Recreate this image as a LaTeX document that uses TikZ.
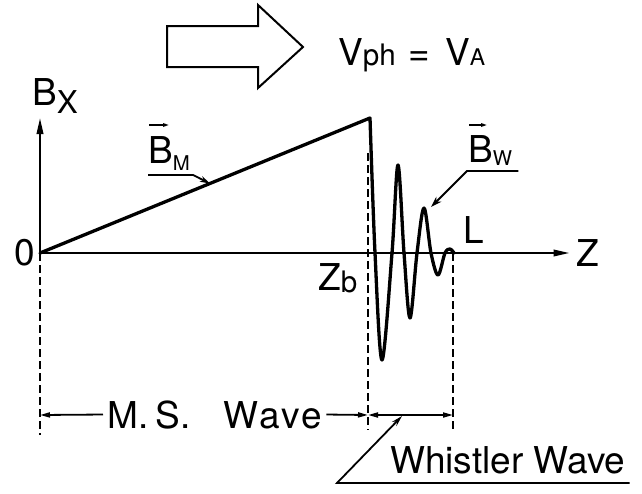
\documentclass[tikz,border=0pt]{standalone}
\usepackage{fontspec}
\setmainfont{TeX Gyre Heros}
\usetikzlibrary{arrows.meta,positioning,calc}
\tikzset{
  axisln/.style={-{Triangle[length=16pt,width=6.5pt]}, line width=2.1pt},
  curveln/.style={line width=3.3pt, line cap=round, line join=round},
  projln/.style={dash pattern=on 8pt off 4pt, line width=2pt},
  dimln/.style={line width=1.8pt},
  leadln/.style={line width=1.8pt},
  vecln/.style={-{Triangle[length=6pt,width=3.5pt]}, line width=1.4pt},
  bigarrow/.style={line width=2pt, line join=miter},
  lbl/.style={inner sep=0pt, font=\biglbl},
}
\newcommand{\biglbl}{\fontsize{37}{42}\selectfont}
\newcommand{\lowsub}[3][0pt]{\raisebox{-#1}{\scalebox{#2}{#3}}}

\begin{document}
\begin{tikzpicture}[x=1pt,y=-1pt]
  \useasboundingbox (0,0) rectangle (642,493);
  % --- phase velocity arrow ---
  \draw[bigarrow] (167,26) -- (258,26) -- (258,5) -- (303,47) -- (258,88)
    -- (258,67) -- (167,67) -- cycle;
  \node[lbl, anchor=base west] (vph) at (338,65)
    {V\lowsub{0.8}{ph}\hspace{0.35em}=\hspace{0.4em}V\lowsub{0.62}{A}};
  % --- axes ---
  \coordinate (o) at (40,253);
  \node[lbl] (olab) at (25,253) {0};
  \node[lbl] (zlab) at (588,253) {Z};
  \node[lbl, anchor=base west] (bxlab) at (32,105) {B\lowsub[8pt]{0.85}{X}};
  \draw[axisln] (o) -- ([xshift=-7pt]zlab.west);
  \draw[axisln] (o) -- (40,118) coordinate (bxtip);
  % --- field profile ---
  \coordinate (peak) at (370,118);
  \draw[curveln] (o) -- plot[smooth, tension=0.55] coordinates {
    (peak) (375,253) (382,360) (392,253) (398,165) (404,253) (410,318)
    (417,253) (424,208) (431,253) (438,275) (445,253) (450,249) (454,253)};
  \coordinate (bmtip) at ($(o)!0.515!(peak)$);
  \coordinate (bwtip) at (431,207);
  % --- labels on the profile ---
  \node[lbl, anchor=base west] (zblab) at (318,290) {Z\lowsub[2pt]{0.8}{b}};
  \node[lbl, anchor=base west] (llab) at (463,243) {L};
  \node[lbl, anchor=base west] (bmlab) at (148,163) {B\lowsub[7pt]{0.55}{M}};
  \node[lbl, anchor=base west] (bwlab) at (468,162) {B\lowsub[3pt]{0.55}{W}};
  \draw[vecln] ([shift={(1pt,38pt)}]bmlab.base west) -- ++(20,0);
  \draw[vecln] ([shift={(1pt,37pt)}]bwlab.base west) -- ++(18,0);
  \draw[leadln, -{Stealth[length=10pt,width=6pt]}]
    ([yshift=-12pt]bmlab.base west) -- ([shift={(3pt,-12pt)}]bmlab.base east) -- (bmtip);
  \draw[leadln, -{Stealth[open,length=11pt,width=7pt]}]
    ([shift={(6pt,-9pt)}]bwlab.base east) -- ([shift={(-1pt,-9pt)}]bwlab.base west) -- (bwtip);
  % --- projection lines ---
  \coordinate (dl) at (40,415);
  \coordinate (dm) at (368,415);
  \coordinate (dr) at (453,415);
  \draw[projln] (o) -- ([yshift=-20pt]dl);
  \draw[projln] (368,153) -- ([yshift=-15pt]dm);
  \draw[projln] (453,253) -- ([yshift=-15pt]dr);
  % --- wave extents ---
  \node[lbl, anchor=base west, inner xsep=4pt] (mslab) at (103,428)
    {M.\hspace{0.2em}S.\hspace{0.9em}W\hspace{0.02em}a\hspace{0.04em}v\hspace{0.04em}e};
  \draw[dimln, -{Triangle[open,length=10pt,width=5pt]}] (mslab.west) -- (dl);
  \draw[dimln, -{Triangle[length=10pt,width=5pt]}] (mslab.east) -- (dm);
  \draw[dimln, {Triangle[open,length=10pt,width=5pt]}-{Triangle[open,length=10pt,width=5pt]}] (dm) -- (dr);
  \node[lbl, anchor=base west] (whlab) at (390,473) {Whistler Wave};
  \coordinate (whtip) at (402,416);
  \draw[leadln, -{Stealth[open,length=11pt,width=6pt]}]
    ([shift={(4pt,-10pt)}]whlab.base east) -- (337,483) -- (whtip);
\end{tikzpicture}
\end{document}
